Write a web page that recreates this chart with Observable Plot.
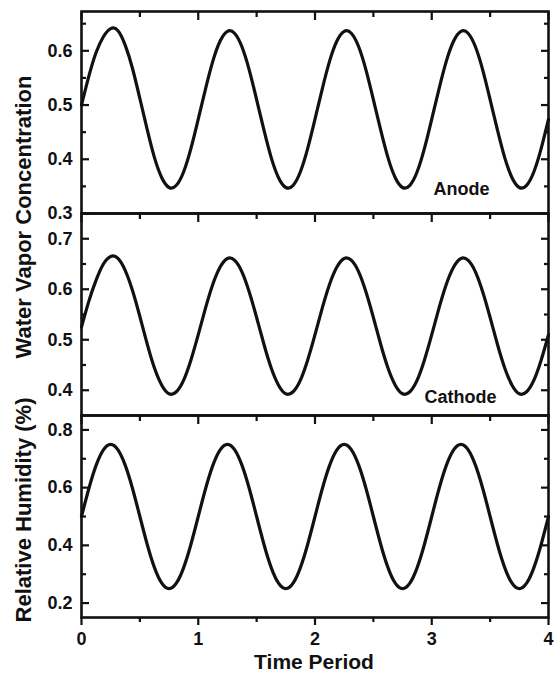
<!DOCTYPE html>
<html><head><meta charset="utf-8">
<script src="https://cdn.jsdelivr.net/npm/d3@7"></script>
<script src="https://cdn.jsdelivr.net/npm/@observablehq/plot@0.6"></script>
<style>
html,body{margin:0;padding:0;background:#fff;}
#fig{position:relative;width:554px;height:675px;overflow:hidden;font-family:"Liberation Sans",Arial,sans-serif;color:#111;}
#fig svg{position:absolute;left:0;overflow:visible;background:transparent;}
</style></head><body><div id="fig"></div>
<script>
// ---- data ----
const time = [
  0,0.0625,0.125,0.1875,0.25,0.3125,0.375,0.4375,0.5,0.5625,0.625,0.6875,0.75,0.8125,0.875,0.9375,
  1,1.0625,1.125,1.1875,1.25,1.3125,1.375,1.4375,1.5,1.5625,1.625,1.6875,1.75,1.8125,1.875,1.9375,
  2,2.0625,2.125,2.1875,2.25,2.3125,2.375,2.4375,2.5,2.5625,2.625,2.6875,2.75,2.8125,2.875,2.9375,
  3,3.0625,3.125,3.1875,3.25,3.3125,3.375,3.4375,3.5,3.5625,3.625,3.6875,3.75,3.8125,3.875,3.9375,
  4
];
const anode = [
  0.500,0.553,0.597,0.626,0.641,0.637,0.610,0.567,0.512,0.455,0.403,0.366,0.348,0.352,0.377,0.420,
  0.474,0.530,0.581,0.618,0.636,0.632,0.607,0.564,0.510,0.454,0.403,0.366,0.348,0.352,0.377,0.420,
  0.474,0.530,0.581,0.618,0.636,0.632,0.607,0.564,0.510,0.454,0.403,0.366,0.348,0.352,0.377,0.420,
  0.474,0.530,0.581,0.618,0.636,0.632,0.607,0.564,0.510,0.454,0.403,0.366,0.348,0.352,0.377,0.420,
  0.474
];
const cathode = [
  0.525,0.576,0.618,0.650,0.665,0.661,0.637,0.597,0.546,0.492,0.444,0.410,0.393,0.397,0.420,0.460,
  0.510,0.563,0.610,0.644,0.661,0.657,0.634,0.594,0.544,0.491,0.444,0.410,0.393,0.397,0.420,0.460,
  0.510,0.563,0.610,0.644,0.661,0.657,0.634,0.594,0.544,0.491,0.444,0.410,0.393,0.397,0.420,0.460,
  0.510,0.563,0.610,0.644,0.661,0.657,0.634,0.594,0.544,0.491,0.444,0.410,0.393,0.397,0.420,0.460,
  0.510
];
const humidity = [
  0.500,0.596,0.677,0.731,0.750,0.731,0.677,0.596,0.500,0.404,0.323,0.269,0.250,0.269,0.323,0.404,
  0.500,0.596,0.677,0.731,0.750,0.731,0.677,0.596,0.500,0.404,0.323,0.269,0.250,0.269,0.323,0.404,
  0.500,0.596,0.677,0.731,0.750,0.731,0.677,0.596,0.500,0.404,0.323,0.269,0.250,0.269,0.323,0.404,
  0.500,0.596,0.677,0.731,0.750,0.731,0.677,0.596,0.500,0.404,0.323,0.269,0.250,0.269,0.323,0.404,
  0.500
];
const xTicks = [0,1,2,3,4];
const xMinor = [0.5,1.5,2.5,3.5];
const anodeTicks = [0.3,0.4,0.5,0.6];
const anodeMinor = [0.35,0.45,0.55,0.65];
const cathodeTicks = [0.4,0.5,0.6,0.7];
const cathodeMinor = [0.45,0.55,0.65];
const humidityTicks = [0.2,0.4,0.6,0.8];
const humidityMinor = [0.3,0.5,0.7];
const panelLabels = ["Anode","Cathode"];
const yTitleTop = "Water Vapor Concentration";
const yTitleBottom = "Relative Humidity (%)";
const xTitle = "Time Period";

// ---- drawing ----
const INK = "#111";
const fig = document.getElementById("fig");
const W = 554, ML = 81, MR = 6;

function panel(opts) {
  const rows = time.map((t, i) => ({t, v: opts.values[i]}));
  const tk = {fill: "none", label: null, stroke: INK, strokeWidth: 2.2};
  const marks = [
    Plot.line(rows, {x: "t", y: "v", curve: "natural", stroke: INK, strokeWidth: 3.2, strokeLinejoin: "round"}),
    Plot.axisY(opts.ticks, {anchor: "left", tickSize: -8, ...tk}),
    Plot.axisY(opts.minor, {anchor: "left", tickSize: -5, ...tk}),
    Plot.axisY(opts.ticks, {anchor: "right", tickSize: -8, ...tk}),
    Plot.axisY(opts.minor, {anchor: "right", tickSize: -5, ...tk}),
    Plot.axisY(opts.ticks, {anchor: "left", tickSize: 0, stroke: "none", tickPadding: 9, label: null,
      fill: INK, fontSize: 18, fontWeight: "bold", tickFormat: d3.format(".1f")}),
    Plot.axisX(xTicks, {anchor: "top", tickSize: -8, ...tk}),
    Plot.axisX(xMinor, {anchor: "top", tickSize: -5, ...tk}),
    Plot.frame({stroke: INK, strokeWidth: 2.6})
  ];
  if (opts.bottomAxis) {
    marks.push(
      Plot.axisX(xTicks, {anchor: "bottom", tickSize: 8, tickPadding: 7, label: null, stroke: INK, strokeWidth: 2.2,
        fill: INK, fontSize: 18, fontWeight: "bold", tickFormat: d3.format("d")}),
      Plot.axisX(xMinor, {anchor: "bottom", tickSize: 5, ...tk})
    );
  }
  if (opts.label) {
    marks.push(Plot.text([opts.label], {text: d => d, frameAnchor: "bottom-right", dx: opts.ldx, dy: opts.ldy,
      textAnchor: "middle", lineAnchor: "bottom", fontSize: 18, fontWeight: "bold", fill: INK}));
  }
  const svg = Plot.plot({
    width: W, height: opts.height,
    marginLeft: ML, marginRight: MR, marginTop: opts.mt, marginBottom: opts.mb,
    x: {domain: [0, 4]},
    y: {domain: opts.domain},
    style: {background: "transparent", overflow: "visible", fontFamily: "'Liberation Sans', Arial, sans-serif", color: INK},
    marks
  });
  svg.style.position = "absolute";
  svg.style.top = opts.top + "px";
  svg.style.left = "0px";
  fig.appendChild(svg);
}

panel({values: anode, domain: [0.3, 0.6725], ticks: anodeTicks, minor: anodeMinor,
  top: 0, height: 225, mt: 11, mb: 12, label: panelLabels[0], ldx: -87, ldy: -18.4});
panel({values: cathode, domain: [0.35, 0.75], ticks: cathodeTicks, minor: cathodeMinor,
  top: 203, height: 222, mt: 10, mb: 10, label: panelLabels[1], ldx: -88, ldy: -12.3});
panel({values: humidity, domain: [0.15, 0.85], ticks: humidityTicks, minor: humidityMinor,
  top: 405, height: 270, mt: 10, mb: 58, bottomAxis: true});

// titles
const ns = "http://www.w3.org/2000/svg";
const ov = document.createElementNS(ns, "svg");
ov.setAttribute("width", W); ov.setAttribute("height", 675);
ov.style.position = "absolute"; ov.style.top = "0px"; ov.style.left = "0px"; ov.style.pointerEvents = "none";
function addText(str, x, y, rot, size) {
  const t = document.createElementNS(ns, "text");
  t.setAttribute("transform", `translate(${x},${y})` + (rot ? ` rotate(${rot})` : ""));
  t.setAttribute("text-anchor", "middle");
  t.setAttribute("font-family", "'Liberation Sans', Arial, sans-serif");
  t.setAttribute("font-weight", "bold");
  t.setAttribute("font-size", size);
  t.setAttribute("fill", INK);
  t.textContent = str;
  ov.appendChild(t);
}
addText(yTitleTop, 31, 217, -90, 22);
addText(yTitleBottom, 31, 510, -90, 22);
addText(xTitle, 314, 669, 0, 21);
fig.appendChild(ov);
</script>
</body></html>
